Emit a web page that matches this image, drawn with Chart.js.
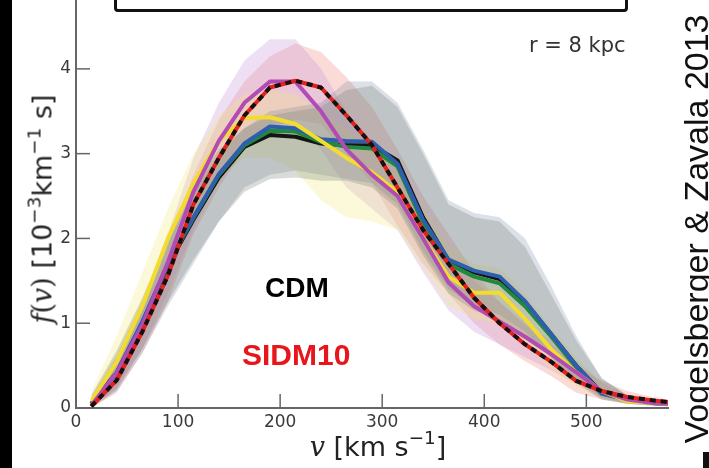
<!DOCTYPE html>
<html>
<head>
<meta charset="utf-8">
<script src="https://cdn.jsdelivr.net/npm/chart.js@4"></script>
<style>
  body { margin: 0; background: #fff; }
  #page { position: relative; width: 709px; height: 468px; overflow: hidden; background: #fff; font-family: "DejaVu Sans", sans-serif; }
  #chart { position: absolute; left: 0; top: -15px; }
  .lbl { position: absolute; white-space: nowrap; }
  .rot { transform: translate(-50%, -50%) rotate(-90deg); }
  .math { font-family: "DejaVu Serif", serif; font-style: italic; }
  sup { font-size: 0.68em; vertical-align: 0.62em; line-height: 0; }
</style>
</head>
<body>
<div id="page">
  <canvas id="chart" width="709" height="483"></canvas>
  <div class="lbl" style="left:0;top:0;width:12px;height:468px;background:#000"></div>
  <div class="lbl" style="left:114px;top:-20px;width:508px;height:26px;border:3px solid #111;border-radius:4px;background:#fff"></div>
  <div class="lbl" style="left:703px;top:452px;width:6px;height:16px;background:#111"></div>
  <div class="lbl" style="left:529px;top:33px;font-size:21px;color:#333">r = 8 kpc</div>
  <div class="lbl" style="left:265px;top:272px;font:bold 28px 'Liberation Sans',sans-serif;color:#000">CDM</div>
  <div class="lbl" style="left:242px;top:338px;font:bold 30px 'Liberation Sans',sans-serif;color:#e8151b">SIDM10</div>
  <div class="lbl rot" style="left:42px;top:209px;font-size:27px;color:#222"><span class="math">f</span><span class="math" style="font-style:normal">(</span><span class="math">v</span><span class="math" style="font-style:normal">)</span> [10<sup>−3</sup>km<sup>−1</sup> s]</div>
  <div class="lbl" style="left:378px;top:446px;transform:translate(-50%,-50%);font-size:27px;color:#222"><span class="math">v</span> [km s<sup>−1</sup>]</div>
  <div class="lbl rot" style="left:696px;top:229px;font:34px 'Liberation Sans',sans-serif;color:#111">Vogelsberger &amp; Zavala 2013</div>
</div>
<script>
// velocity nodes (km/s)
const vel = [15, 40, 65, 90, 115, 140, 165, 190, 215, 240, 265, 290, 315, 340, 365, 390, 415, 440, 465, 490, 515, 540, 565, 580];

// mean curves f(v) in 1e-3 km^-1 s
const cdmVals     = [0.05, 0.42, 1.0, 1.68, 2.22, 2.72, 3.08, 3.22, 3.2, 3.12, 3.1, 3.1, 2.92, 2.25, 1.74, 1.6, 1.52, 1.25, 0.88, 0.5, 0.18, 0.1, 0.06, 0.05];
const greenVals   = [0.05, 0.42, 1.0, 1.7, 2.24, 2.75, 3.1, 3.27, 3.26, 3.14, 3.08, 3.06, 2.85, 2.18, 1.7, 1.55, 1.47, 1.2, 0.85, 0.48, 0.17, 0.1, 0.06, 0.05];
const blueVals    = [0.05, 0.42, 1.02, 1.7, 2.25, 2.76, 3.12, 3.32, 3.3, 3.17, 3.15, 3.14, 2.88, 2.22, 1.75, 1.62, 1.55, 1.26, 0.88, 0.5, 0.17, 0.1, 0.06, 0.05];
const yellowVals  = [0.08, 0.55, 1.2, 2.0, 2.65, 3.15, 3.42, 3.43, 3.35, 3.15, 2.95, 2.78, 2.55, 2.0, 1.55, 1.36, 1.36, 1.05, 0.7, 0.42, 0.2, 0.08, 0.06, 0.05];
const magentaVals = [0.03, 0.42, 0.98, 1.72, 2.55, 3.15, 3.6, 3.85, 3.85, 3.5, 3.05, 2.75, 2.5, 2.0, 1.48, 1.2, 1.02, 0.84, 0.64, 0.42, 0.2, 0.1, 0.06, 0.05];
const sidm10Vals  = [0.02, 0.33, 0.9, 1.56, 2.4, 2.95, 3.45, 3.78, 3.86, 3.78, 3.45, 3.1, 2.6, 2.1, 1.7, 1.3, 1.0, 0.75, 0.55, 0.32, 0.2, 0.13, 0.09, 0.07];

// scatter bands (upper / lower)
const cdmHi     = [0.15, 0.68, 1.3, 2.0, 2.6, 3.05, 3.3, 3.45, 3.5, 3.55, 3.75, 3.8, 3.55, 3.0, 2.4, 2.25, 2.2, 1.9, 1.35, 0.8, 0.35, 0.15, 0.08, 0.06];
const cdmLo     = [0.0, 0.22, 0.7, 1.25, 1.75, 2.2, 2.55, 2.7, 2.72, 2.68, 2.68, 2.6, 2.35, 1.8, 1.35, 1.15, 1.05, 0.85, 0.6, 0.32, 0.12, 0.05, 0.03, 0.02];
const blueHi    = [0.12, 0.62, 1.25, 1.95, 2.55, 3.0, 3.3, 3.5, 3.55, 3.6, 3.85, 3.85, 3.6, 3.05, 2.45, 2.3, 2.25, 2.0, 1.45, 0.85, 0.35, 0.15, 0.08, 0.06];
const blueLo    = [0.0, 0.2, 0.65, 1.2, 1.7, 2.2, 2.6, 2.75, 2.8, 2.75, 2.7, 2.65, 2.4, 1.85, 1.4, 1.2, 1.1, 0.9, 0.6, 0.3, 0.1, 0.05, 0.03, 0.02];
const yellowHi  = [0.2, 0.85, 1.6, 2.35, 3.0, 3.45, 3.7, 3.75, 3.7, 3.5, 3.3, 3.1, 2.85, 2.35, 1.9, 1.7, 1.65, 1.35, 0.95, 0.6, 0.3, 0.12, 0.08, 0.06];
const yellowLo  = [0.0, 0.3, 0.85, 1.55, 2.2, 2.7, 2.95, 2.95, 2.8, 2.45, 2.25, 2.2, 2.1, 1.65, 1.2, 1.05, 1.0, 0.75, 0.45, 0.25, 0.1, 0.04, 0.03, 0.02];
const magentaHi = [0.1, 0.6, 1.25, 2.05, 2.95, 3.6, 4.1, 4.35, 4.35, 4.0, 3.5, 3.15, 2.85, 2.3, 1.8, 1.5, 1.25, 1.0, 0.8, 0.55, 0.3, 0.15, 0.08, 0.06];
const magentaLo = [0.0, 0.25, 0.7, 1.35, 2.1, 2.7, 3.1, 3.35, 3.35, 3.05, 2.6, 2.35, 2.1, 1.6, 1.15, 0.9, 0.75, 0.6, 0.45, 0.28, 0.1, 0.05, 0.03, 0.02];
const sidm10Hi  = [0.08, 0.5, 1.15, 1.9, 2.75, 3.4, 3.85, 4.15, 4.3, 4.2, 3.9, 3.55, 3.05, 2.5, 2.05, 1.6, 1.25, 0.98, 0.75, 0.5, 0.32, 0.2, 0.13, 0.1];
const sidm10Lo  = [0.0, 0.18, 0.65, 1.25, 2.05, 2.6, 3.05, 3.3, 3.4, 3.35, 3.0, 2.65, 2.15, 1.7, 1.35, 1.0, 0.75, 0.55, 0.38, 0.18, 0.1, 0.06, 0.04, 0.03];

const xTicks = [0, 100, 200, 300, 400, 500];
const yTicks = [0, 1, 2, 3, 4];

const pts = arr => arr.map((y, i) => ({ x: vel[i], y: y }));

const bands = [
  [cdmHi, cdmLo, 'rgba(125,135,120,0.30)'],
  [blueHi, blueLo, 'rgba(95,115,150,0.22)'],
  [yellowHi, yellowLo, 'rgba(240,232,120,0.28)'],
  [magentaHi, magentaLo, 'rgba(195,140,215,0.28)'],
  [sidm10Hi, sidm10Lo, 'rgba(240,135,125,0.30)']
];

const datasets = [];
// lines: lower order is drawn on top
datasets.push({ data: pts(sidm10Vals), borderColor: '#111', borderWidth: 4, borderDash: [6, 5], order: 0 });
datasets.push({ data: pts(sidm10Vals), borderColor: '#e8201c', borderWidth: 4, order: 1 });
datasets.push({ data: pts(magentaVals), borderColor: '#b24cb4', borderWidth: 4, order: 2 });
datasets.push({ data: pts(yellowVals), borderColor: '#f4dc2c', borderWidth: 4, order: 3 });
datasets.push({ data: pts(blueVals), borderColor: '#2d5fae', borderWidth: 4, order: 4 });
datasets.push({ data: pts(greenVals), borderColor: '#1f8a3c', borderWidth: 4, order: 5 });
datasets.push({ data: pts(cdmVals), borderColor: '#151515', borderWidth: 4, order: 6 });
bands.forEach((b, k) => {
  datasets.push({ data: pts(b[0]), borderWidth: 0, backgroundColor: b[2], fill: '+1', order: 20 + k });
  datasets.push({ data: pts(b[1]), borderWidth: 0, fill: false, order: 20 + k });
});

// inward tick marks
const innerTicks = {
  id: 'innerTicks',
  afterDatasetsDraw(chart) {
    const ctx = chart.ctx, xs = chart.scales.x, ys = chart.scales.y;
    ctx.save();
    ctx.strokeStyle = '#666';
    ctx.lineWidth = 1.5;
    xTicks.forEach(t => {
      const px = xs.getPixelForValue(t);
      ctx.beginPath(); ctx.moveTo(px, ys.bottom); ctx.lineTo(px, ys.bottom - 14); ctx.stroke();
    });
    yTicks.forEach(t => {
      const py = ys.getPixelForValue(t);
      ctx.beginPath(); ctx.moveTo(xs.left, py); ctx.lineTo(xs.left + 14, py); ctx.stroke();
    });
    ctx.restore();
  }
};

new Chart(document.getElementById('chart'), {
  type: 'line',
  data: { datasets: datasets },
  options: {
    responsive: false,
    animation: false,
    layout: { padding: { left: 12, right: 41, top: 0, bottom: 0 } },
    elements: { point: { radius: 0 }, line: { tension: 0, borderCapStyle: 'butt', borderJoinStyle: 'round' } },
    plugins: { legend: { display: false }, tooltip: { enabled: false }, filler: { drawTime: 'beforeDatasetsDraw' } },
    scales: {
      x: {
        type: 'linear', min: 0, max: 580,
        afterFit: s => { s.height = 60; },
        grid: { display: false, drawTicks: false },
        border: { display: true, color: '#666', width: 2 },
        afterBuildTicks: s => { s.ticks = xTicks.map(v => ({ value: v })); },
        ticks: { autoSkip: false, maxRotation: 0, padding: 4, color: '#3a3a3a', font: { family: 'DejaVu Sans', size: 17 } }
      },
      y: {
        min: 0, max: 4.81,
        afterFit: s => { s.width = 64; },
        grid: { display: false, drawTicks: false },
        border: { display: true, color: '#666', width: 2 },
        afterBuildTicks: s => { s.ticks = yTicks.map(v => ({ value: v })); },
        ticks: { padding: 5, color: '#3a3a3a', font: { family: 'DejaVu Sans', size: 17 } }
      }
    }
  },
  plugins: [innerTicks]
});
</script>
</body>
</html>
